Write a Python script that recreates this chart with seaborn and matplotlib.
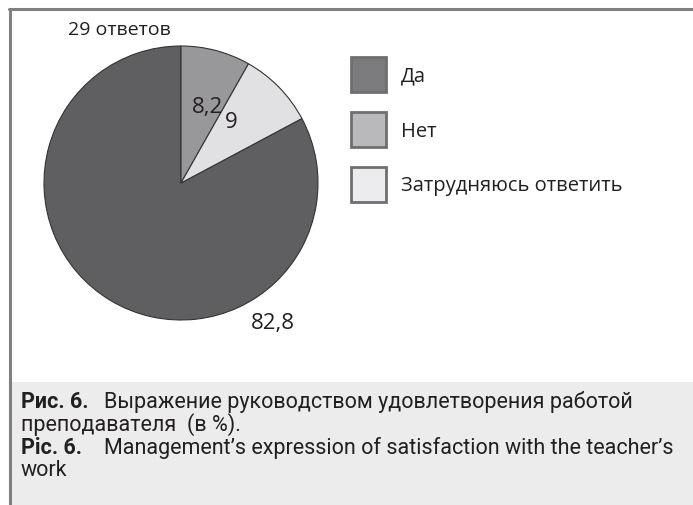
import matplotlib
matplotlib.use("Agg")
import matplotlib.pyplot as plt
import seaborn as sns
from matplotlib.patches import Patch, Rectangle
from matplotlib.lines import Line2D

# данные
categories = ["Да", "Нет", "Затрудняюсь ответить"]
values = [82.8, 8.2, 9]
value_labels = ["82,8", "8,2", "9"]
subtitle = "29 ответов"
pie_colors = ["#5f5f61", "#98989a", "#e1e1e3"]
legend_colors = ["#7b7b7d", "#b9b9bb", "#ececee"]

sns.set_theme(style="white")
plt.rcParams['font.family'] = ['Open Sans', 'DejaVu Sans']

W, H = 693, 506
fig = plt.figure(figsize=(W / 100, H / 100), dpi=100)

def fx(x):
    return x / W

def fy(y):
    return 1 - y / H

# рамка и подложка подписи
fig.add_artist(Rectangle((fx(11), 0), 1 - fx(11), fy(383), transform=fig.transFigure,
                         facecolor="#ececec", edgecolor="none", zorder=0))
fig.add_artist(Line2D([fx(9.5), fx(9.5)], [0, fy(9.5)], transform=fig.transFigure,
                      color="#808080", lw=2.2))
fig.add_artist(Line2D([fx(8.5), 1], [fy(9.5), fy(9.5)], transform=fig.transFigure,
                      color="#808080", lw=2.2))

# круговая диаграмма
cx, cy, r = 181, 184, 137
ax = fig.add_axes([fx(cx - r), fy(cy + r), 2 * r / W, 2 * r / H])
start = 90 - (values[1] + values[2]) * 3.6
ax.pie(values, colors=pie_colors, startangle=start, counterclock=False,
       wedgeprops=dict(edgecolor="#333333", linewidth=0.8))
ax.set_xlim(-1, 1)
ax.set_ylim(-1, 1)
ax.set_aspect("equal")
ax.axis("off")

# подписи значений
label_pos = [(0.67, -1.02), (0.19, 0.56), (0.37, 0.45)]
for (tx, ty), lab in zip(label_pos, value_labels):
    ax.text(tx, ty, lab, ha="center", va="center", fontsize=16, color="#231f20", clip_on=False)

fig.text(fx(119), fy(30), subtitle, ha="center", va="center", fontsize=14, color="#231f20")

# легенда
handles = [Patch(facecolor=c, edgecolor="#6f6f71", linewidth=2) for c in legend_colors]
fig.legend(handles, categories, loc="upper left", bbox_to_anchor=(fx(351), fy(58)),
           frameon=False, fontsize=14.5, handlelength=1.75, handleheight=2.3,
           handletextpad=0.72, labelspacing=0.98, borderpad=0, borderaxespad=0,
           labelcolor="#231f20")

# подпись рисунка
cap = ['Roboto', 'DejaVu Sans']
cs = 15.5
kw = dict(family=cap, fontsize=cs, va="center", color="#231f20")
fig.text(fx(21), fy(402), "Рис. 6.", weight="bold", **kw)
fig.text(fx(104), fy(402), "Выражение руководством удовлетворения работой", **kw)
fig.text(fx(21), fy(425), "преподавателя  (в %).", **kw)
fig.text(fx(21), fy(448), "Pic. 6.", weight="bold", **kw)
fig.text(fx(104), fy(448), "Management’s expression of satisfaction with the teacher’s", **kw)
fig.text(fx(21), fy(471), "work", **kw)

fig.savefig("out.png", dpi=100)
